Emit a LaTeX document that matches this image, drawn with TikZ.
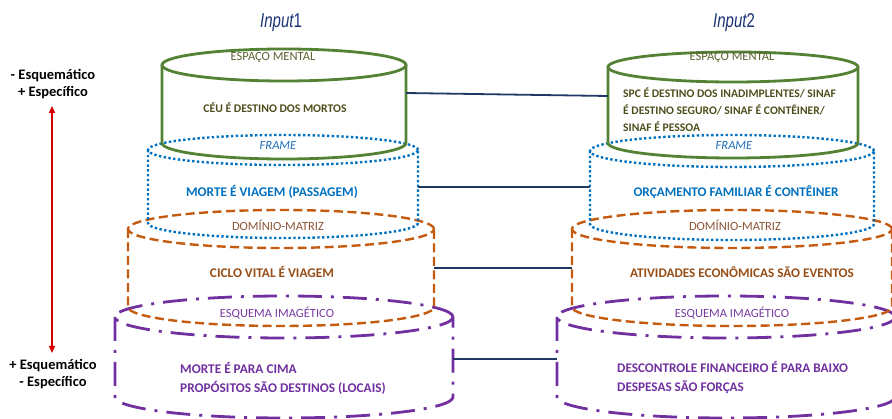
\documentclass[tikz,border=0pt]{standalone}
\usepackage{fontspec}
\setmainfont{Carlito}
\newfontfamily\inputfont{Liberation Sans}
\usetikzlibrary{arrows.meta}
\definecolor{cgreen}{RGB}{84,130,53}
\definecolor{tgreen}{RGB}{96,96,50}
\definecolor{tgreenb}{RGB}{78,78,28}
\definecolor{cblue}{RGB}{0,112,192}
\definecolor{tblue}{RGB}{30,110,185}
\definecolor{cora}{RGB}{197,90,17}
\definecolor{tora}{RGB}{140,85,55}
\definecolor{torab}{RGB}{150,78,22}
\definecolor{cpur}{RGB}{112,48,160}
\definecolor{tpur}{RGB}{120,60,160}
\definecolor{cnavy}{RGB}{31,56,100}
\definecolor{tinput}{RGB}{25,50,120}
\definecolor{cred}{RGB}{215,0,0}
\newcommand{\mycyl}[6]{% cx, ytop, ybot, rx, ry, style
  \draw[#6] (#1,#2) ellipse [x radius=#4pt, y radius=#5pt];
  \draw[#6] (#1-#4,#2) -- (#1-#4,#3) arc [start angle=180, end angle=360, x radius=#4pt, y radius=#5pt] -- (#1+#4,#2);
}
\tikzset{
  greenline/.style={draw=cgreen, line width=2.8pt},
  blueline/.style={draw=cblue, line width=2.4pt, dash pattern=on 2.4pt off 2.4pt},
  oraline/.style={draw=cora, line width=2.4pt, dash pattern=on 9pt off 4.5pt},
  purline/.style={draw=cpur, line width=2.8pt, dash pattern=on 24pt off 9pt on 3pt off 9pt},
  link/.style={draw=cnavy, line width=1.8pt},
  layerlbl/.style={inner sep=0pt, font=\fontsize{12.5}{14}\selectfont},
  content/.style={inner sep=0pt, font=\bfseries\fontsize{13.3}{17}\selectfont},
  axislbl/.style={inner sep=0pt, align=center, font=\bfseries\fontsize{14.5}{17}\selectfont},
  inputlbl/.style={inner sep=0pt, text=tinput, font=\inputfont\fontsize{20}{22}\selectfont}
}
\begin{document}
\begin{tikzpicture}[x=1pt,y=-1pt]
\useasboundingbox (0,0) rectangle (892,419);

% titles
\node[inputlbl] (in1) at (281,23) {\scalebox{0.75}[1]{\itshape Input\upshape 1}};
\node[inputlbl] (in2) at (734,23) {\scalebox{0.75}[1]{\itshape Input\upshape 2}};

% axis
\node[axislbl] (top) at (53,84.5) {- Esquemático\\+ Específico};
\node[axislbl] (bot) at (53,374.5) {+ Esquemático\\- Específico};
\coordinate (atop) at (52,106);
\coordinate (abot) at (52,353);
\draw[cred, line width=1.6pt, {Triangle[length=7pt,width=6pt]}-{Triangle[length=7pt,width=6pt]}] (atop) -- (abot);

% left stack
\mycyl{284}{317}{397}{169}{21}{purline}
\mycyl{281}{229}{307}{153}{19}{oraline}
\mycyl{283}{150}{223}{135}{15}{blueline}
\mycyl{284}{65}{143}{122}{16}{greenline}

% right stack
\mycyl{726}{317}{397}{169}{21}{purline}
\mycyl{732}{229}{307}{160}{19}{oraline}
\mycyl{732}{151}{224}{142}{16}{blueline}
\mycyl{733}{67}{143}{125}{15}{greenline}

% left labels
\node[layerlbl, text=tgreen] (em1) at (273,57) {ESPAÇO MENTAL};
\node[content, text=tgreenb, font=\bfseries\fontsize{11.7}{13}\selectfont] (ceu) at (275,108) {CÉU É DESTINO DOS MORTOS};
\node[layerlbl, text=tblue, font=\itshape\fontsize{12.5}{14}\selectfont] (fr1) at (278,145) {FRAME};
\node[content, text=cblue] (morte) at (272,192) {MORTE É VIAGEM (PASSAGEM)};
\node[layerlbl, text=tora] (dm1) at (278,225) {DOMÍNIO-MATRIZ};
\node[content, text=torab] (ciclo) at (272,272) {CICLO VITAL É VIAGEM};
\node[layerlbl, text=tpur, font=\fontsize{12.5}{14}\selectfont] (ei1) at (277,313) {ESQUEMA IMAGÉTICO};
\node[content, text=cpur, anchor=west, align=left, font=\bfseries\fontsize{13.3}{19.5}\selectfont] (cima) at (180,378.5) {MORTE É PARA CIMA\\PROPÓSITOS SÃO DESTINOS (LOCAIS)};

% right labels
\node[layerlbl, text=tgreen] (em2) at (732,57) {ESPAÇO MENTAL};
\node[content, text=tgreenb, anchor=west, align=left, font=\bfseries\fontsize{11.6}{17}\selectfont] (spc) at (623,110) {SPC É DESTINO DOS INADIMPLENTES/ SINAF\\É DESTINO SEGURO/ SINAF É CONTÊINER/\\SINAF É PESSOA};
\node[layerlbl, text=tblue, font=\itshape\fontsize{12.5}{14}\selectfont] (fr2) at (734,145) {FRAME};
\node[content, text=cblue, font=\bfseries\fontsize{13.2}{17}\selectfont] (orc) at (736,192) {ORÇAMENTO FAMILIAR É CONTÊINER};
\node[layerlbl, text=tora] (dm2) at (735,225) {DOMÍNIO-MATRIZ};
\node[content, text=torab, font=\bfseries\fontsize{13.2}{17}\selectfont] (ativ) at (742,272) {ATIVIDADES ECONÔMICAS SÃO EVENTOS};
\node[layerlbl, text=tpur, font=\fontsize{12.5}{14}\selectfont] (ei2) at (732,313) {ESQUEMA IMAGÉTICO};
\node[content, text=cpur, anchor=west, align=left, font=\bfseries\fontsize{13.2}{19.5}\selectfont] (desc) at (617,377.5) {DESCONTROLE FINANCEIRO É PARA BAIXO\\DESPESAS SÃO FORÇAS};

% connectors
\coordinate (g1) at (406,93);
\coordinate (g2) at (608,96);
\coordinate (b1) at (418,187);
\coordinate (b2) at (590,187);
\coordinate (o1) at (434,268);
\coordinate (o2) at (572,268);
\coordinate (p1) at (453,359);
\coordinate (p2) at (557,359);
\draw[link] (g1) -- (g2);
\draw[link] (b1) -- (b2);
\draw[link] (o1) -- (o2);
\draw[link] (p1) -- (p2);
\end{tikzpicture}
\end{document}
